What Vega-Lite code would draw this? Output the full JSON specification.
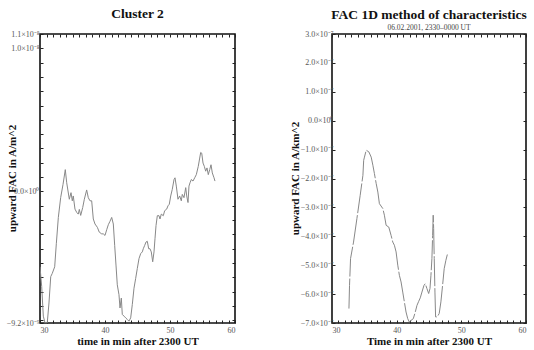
{
  "$schema": "https://vega.github.io/schema/vega-lite/v6.json",
  "padding": {"left": 5, "top": 5, "right": 5, "bottom": 5},
  "background": "white",
  "config": {
    "font": "Liberation Serif",
    "view": {"stroke": "#111", "strokeWidth": 1.6},
    "axis": {"grid": false, "domain": false, "tickSize": -3, "tickColor": "#222", "labelFont": "Liberation Serif", "labelFontSize": 8, "labelColor": "#555", "titleFont": "Liberation Serif", "titleFontWeight": "bold", "titleFontSize": 11, "titleColor": "#111"},
    "title": {"font": "Liberation Serif", "fontSize": 13.5, "fontWeight": "bold", "color": "#111", "subtitleFont": "Liberation Serif", "subtitleFontSize": 7.5, "subtitleColor": "#444"}
  },
  "hconcat": [
    {
      "width": 195,
      "height": 289,
      "title": {"text": "Cluster 2", "offset": 10},
      "data": {"values": [
        {"t":30.0,"fac":-5.27e-9},{"t":30.26,"fac":-6.65e-9},{"t":30.51,"fac":-8.72e-9},{"t":30.77,"fac":-9.19e-9},{"t":31.12,"fac":-9.19e-9},{"t":31.38,"fac":-7.80e-9},{"t":31.65,"fac":-5.96e-9},{"t":31.89,"fac":-5.73e-9},{"t":32.26,"fac":-5.27e-9},{"t":32.51,"fac":-3.66e-9},{"t":32.82,"fac":-1.82e-9},{"t":33.18,"fac":-0.44e-9},{"t":33.54,"fac":0.48e-9},{"t":33.89,"fac":1.52e-9},{"t":34.11,"fac":0.60e-9},{"t":34.51,"fac":-0.55e-9},{"t":34.77,"fac":-0.09e-9},{"t":34.97,"fac":-0.66e-9},{"t":35.12,"fac":-0.32e-9},{"t":35.38,"fac":-1.24e-9},{"t":35.65,"fac":-1.47e-9},{"t":35.89,"fac":-1.59e-9},{"t":36.05,"fac":-1.26e-9},{"t":36.26,"fac":-1.68e-9},{"t":36.57,"fac":-1.13e-9},{"t":36.82,"fac":-0.55e-9},{"t":37.18,"fac":0.10e-9},{"t":37.43,"fac":-0.44e-9},{"t":37.69,"fac":-0.66e-9},{"t":37.95,"fac":-0.66e-9},{"t":38.20,"fac":-1.93e-9},{"t":38.46,"fac":-2.28e-9},{"t":38.82,"fac":-2.51e-9},{"t":39.12,"fac":-2.85e-9},{"t":39.49,"fac":-2.97e-9},{"t":39.74,"fac":-2.97e-9},{"t":40.0,"fac":-3.08e-9},{"t":40.26,"fac":-2.68e-9},{"t":40.51,"fac":-2.33e-9},{"t":40.77,"fac":-2.09e-9},{"t":41.03,"fac":-1.82e-9},{"t":41.28,"fac":-2.28e-9},{"t":41.49,"fac":-3.77e-9},{"t":41.69,"fac":-5.15e-9},{"t":41.89,"fac":-6.53e-9},{"t":42.15,"fac":-7.22e-9},{"t":42.31,"fac":-8.15e-9},{"t":42.51,"fac":-7.46e-9},{"t":42.66,"fac":-8.60e-9},{"t":42.92,"fac":-8.72e-9},{"t":43.18,"fac":-8.84e-9},{"t":43.43,"fac":-8.95e-9},{"t":43.69,"fac":-9.07e-9},{"t":43.95,"fac":-8.84e-9},{"t":44.20,"fac":-7.91e-9},{"t":44.46,"fac":-6.77e-9},{"t":44.72,"fac":-6.08e-9},{"t":44.97,"fac":-5.39e-9},{"t":45.23,"fac":-4.70e-9},{"t":45.49,"fac":-4.35e-9},{"t":45.74,"fac":-4.23e-9},{"t":45.89,"fac":-4.01e-9},{"t":46.11,"fac":-3.77e-9},{"t":46.31,"fac":-3.54e-9},{"t":46.51,"fac":-3.49e-9},{"t":46.72,"fac":-4.01e-9},{"t":46.92,"fac":-4.01e-9},{"t":47.12,"fac":-4.23e-9},{"t":47.34,"fac":-4.92e-9},{"t":47.54,"fac":-4.23e-9},{"t":47.69,"fac":-3.31e-9},{"t":47.85,"fac":-2.39e-9},{"t":48.05,"fac":-1.70e-9},{"t":48.31,"fac":-1.70e-9},{"t":48.46,"fac":-1.93e-9},{"t":48.66,"fac":-1.59e-9},{"t":48.97,"fac":-1.70e-9},{"t":49.18,"fac":-1.35e-9},{"t":49.49,"fac":-1.24e-9},{"t":49.69,"fac":-1.01e-9},{"t":49.89,"fac":-0.90e-9},{"t":50.11,"fac":-0.32e-9},{"t":50.35,"fac":0.14e-9},{"t":50.62,"fac":0.83e-9},{"t":50.77,"fac":0.95e-9},{"t":50.97,"fac":0.37e-9},{"t":51.23,"fac":-0.55e-9},{"t":51.49,"fac":-0.32e-9},{"t":51.74,"fac":-0.66e-9},{"t":51.89,"fac":-0.21e-9},{"t":52.15,"fac":-0.44e-9},{"t":52.42,"fac":0.26e-9},{"t":52.57,"fac":-0.32e-9},{"t":52.77,"fac":-0.78e-9},{"t":52.92,"fac":0.37e-9},{"t":53.08,"fac":0.60e-9},{"t":53.28,"fac":0.83e-9},{"t":53.54,"fac":0.72e-9},{"t":53.80,"fac":0.95e-9},{"t":54.05,"fac":1.17e-9},{"t":54.35,"fac":1.75e-9},{"t":54.57,"fac":2.33e-9},{"t":54.72,"fac":2.72e-9},{"t":54.88,"fac":2.67e-9},{"t":55.08,"fac":1.98e-9},{"t":55.28,"fac":1.75e-9},{"t":55.49,"fac":1.41e-9},{"t":55.69,"fac":1.64e-9},{"t":55.89,"fac":1.17e-9},{"t":56.11,"fac":1.52e-9},{"t":56.31,"fac":1.86e-9},{"t":56.51,"fac":1.29e-9},{"t":56.77,"fac":0.95e-9},{"t":56.92,"fac":0.72e-9}
      ]},
      "layer": [
        {
          "mark": {"type": "line", "color": "#888", "strokeWidth": 1, "clip": true},
          "encoding": {
            "x": {"field": "t", "type": "quantitative", "scale": {"domain": [30, 60], "nice": false, "zero": false},
              "axis": {"title": "time in min after 2300 UT", "values": [30,31,32,33,34,35,36,37,38,39,40,41,42,43,44,45,46,47,48,49,50,51,52,53,54,55,56,57,58,59,60], "labelExpr": "datum.value % 10 == 0 ? datum.label : ''", "labelPadding": 6, "titleY": 18, "titleBaseline": "middle"}},
            "y": {"field": "fac", "type": "quantitative", "scale": {"domain": [-9.2e-9, 1.1e-8], "nice": false, "zero": false},
              "axis": {"title": "upward FAC in A/m^2", "values": [-9.2e-9,-9e-9,-8e-9,-7e-9,-6e-9,-5e-9,-4e-9,-3e-9,-2e-9,-1e-9,0,1e-9,2e-9,3e-9,4e-9,5e-9,6e-9,7e-9,8e-9,9e-9,1e-8,1.1e-8],
                "labelExpr": "abs(datum.value-1.1e-8)<1e-12 ? '1.1×10⁻⁸' : abs(datum.value-1e-8)<1e-12 ? '1.0×10⁻⁸' : abs(datum.value)<1e-12 ? '0.0×10⁰' : abs(datum.value+9.2e-9)<1e-12 ? '−9.2×10⁻⁹' : ''",
                "labelPadding": 4, "titleX": -28, "titleY": 144, "titleAngle": -90, "titleAlign": "center", "titleBaseline": "middle"}}
          }
        },
        {
          "mark": {"type": "line", "opacity": 0},
          "encoding": {
            "x": {"field": "t", "type": "quantitative", "axis": {"orient": "top", "labels": false, "title": null, "values": [30,31,32,33,34,35,36,37,38,39,40,41,42,43,44,45,46,47,48,49,50,51,52,53,54,55,56,57,58,59,60]}},
            "y": {"field": "fac", "type": "quantitative", "axis": {"orient": "right", "labels": false, "title": null, "values": [-9e-9,-8e-9,-7e-9,-6e-9,-5e-9,-4e-9,-3e-9,-2e-9,-1e-9,0,1e-9,2e-9,3e-9,4e-9,5e-9,6e-9,7e-9,8e-9,9e-9,1e-8]}}
          }
        }
      ],
      "resolve": {"axis": {"x": "independent", "y": "independent"}}
    },
    {
      "width": 194,
      "height": 289,
      "title": {"text": "FAC 1D method of characteristics", "subtitle": "06.02.2001, 2330–0000 UT", "offset": -1, "subtitlePadding": 2},
      "data": {"values": [
        {"t":32.62,"fac":-6.50e-7},{"t":32.71,"fac":-5.70e-7},{"t":32.87,"fac":-4.77e-7},{"t":33.33,"fac":-4.20e-7},{"t":33.85,"fac":-3.39e-7},{"t":34.36,"fac":-2.58e-7},{"t":34.78,"fac":-1.89e-7},{"t":34.90,"fac":-1.37e-7},{"t":35.02,"fac":-1.26e-7},{"t":35.29,"fac":-1.02e-7},{"t":35.70,"fac":-1.08e-7},{"t":36.06,"fac":-1.26e-7},{"t":36.32,"fac":-1.54e-7},{"t":36.56,"fac":-1.83e-7},{"t":36.83,"fac":-2.17e-7},{"t":37.09,"fac":-2.47e-7},{"t":37.33,"fac":-2.87e-7},{"t":37.86,"fac":-3.04e-7},{"t":38.10,"fac":-3.27e-7},{"t":38.37,"fac":-3.62e-7},{"t":38.78,"fac":-3.68e-7},{"t":39.14,"fac":-3.97e-7},{"t":39.40,"fac":-4.20e-7},{"t":39.65,"fac":-4.31e-7},{"t":39.91,"fac":-4.54e-7},{"t":40.17,"fac":-5.00e-7},{"t":40.42,"fac":-5.35e-7},{"t":40.68,"fac":-5.58e-7},{"t":40.94,"fac":-5.93e-7},{"t":41.19,"fac":-6.27e-7},{"t":41.45,"fac":-6.62e-7},{"t":41.71,"fac":-6.85e-7},{"t":41.96,"fac":-6.97e-7},{"t":42.22,"fac":-6.91e-7},{"t":42.57,"fac":-6.85e-7},{"t":42.88,"fac":-6.62e-7},{"t":43.14,"fac":-6.39e-7},{"t":43.41,"fac":-6.25e-7},{"t":43.65,"fac":-6.13e-7},{"t":43.91,"fac":-5.93e-7},{"t":44.22,"fac":-5.70e-7},{"t":44.42,"fac":-5.64e-7},{"t":44.68,"fac":-5.81e-7},{"t":44.95,"fac":-5.98e-7},{"t":45.15,"fac":-5.81e-7},{"t":45.30,"fac":-5.35e-7},{"t":45.45,"fac":-4.77e-7},{"t":45.56,"fac":-3.97e-7},{"t":45.65,"fac":-3.27e-7},{"t":45.72,"fac":-3.73e-7},{"t":45.81,"fac":-4.77e-7},{"t":45.92,"fac":-5.93e-7},{"t":46.02,"fac":-6.79e-7},{"t":46.27,"fac":-6.79e-7},{"t":46.58,"fac":-6.67e-7},{"t":46.84,"fac":-6.27e-7},{"t":47.10,"fac":-5.70e-7},{"t":47.35,"fac":-5.12e-7},{"t":47.61,"fac":-4.83e-7},{"t":47.87,"fac":-4.60e-7}
      ]},
      "layer": [
        {
          "mark": {"type": "line", "color": "#888", "strokeWidth": 1, "strokeDash": [30, 2], "clip": true},
          "encoding": {
            "x": {"field": "t", "type": "quantitative", "scale": {"domain": [30, 60], "nice": false, "zero": false},
              "axis": {"title": "Time in min after 2300 UT", "values": [30,31,32,33,34,35,36,37,38,39,40,41,42,43,44,45,46,47,48,49,50,51,52,53,54,55,56,57,58,59,60], "labelExpr": "datum.value % 10 == 0 ? datum.label : ''", "labelPadding": 6, "titleY": 18, "titleBaseline": "middle"}},
            "y": {"field": "fac", "type": "quantitative", "scale": {"domain": [-7e-7, 3e-7], "nice": false, "zero": false},
              "axis": {"title": "upward FAC in A/km^2", "values": [-7e-7,-6e-7,-5e-7,-4e-7,-3e-7,-2e-7,-1e-7,0,1e-7,2e-7,3e-7],
                "labelExpr": "abs(datum.value)<1e-12 ? '0.0×10⁰' : (datum.value<0 ? '−' : '') + format(abs(datum.value)*1e7, '.1f') + '×10⁻⁷'",
                "labelPadding": 2, "titleX": -37, "titleY": 144, "titleAngle": -90, "titleAlign": "center", "titleBaseline": "middle"}}
          }
        },
        {
          "mark": {"type": "line", "opacity": 0},
          "encoding": {
            "x": {"field": "t", "type": "quantitative", "axis": {"orient": "top", "labels": false, "title": null, "values": [30,31,32,33,34,35,36,37,38,39,40,41,42,43,44,45,46,47,48,49,50,51,52,53,54,55,56,57,58,59,60]}},
            "y": {"field": "fac", "type": "quantitative", "axis": {"orient": "right", "labels": false, "title": null, "values": [-7e-7,-6e-7,-5e-7,-4e-7,-3e-7,-2e-7,-1e-7,0,1e-7,2e-7,3e-7]}}
          }
        }
      ],
      "resolve": {"axis": {"x": "independent", "y": "independent"}}
    }
  ],
  "spacing": 97,
  "bounds": "flush"
}
